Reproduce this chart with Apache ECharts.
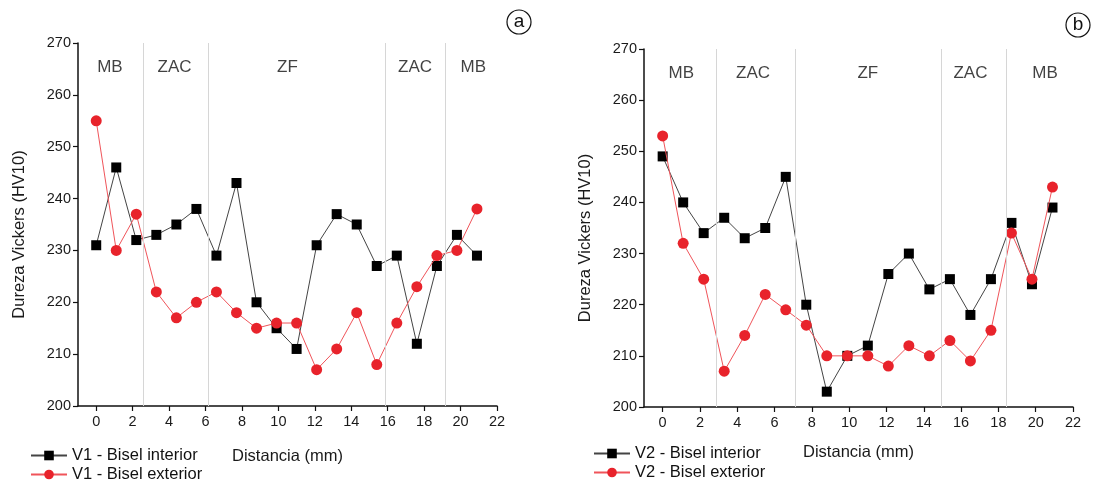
<!DOCTYPE html>
<html>
<head>
<meta charset="utf-8">
<script src="https://cdn.jsdelivr.net/npm/echarts@6/dist/echarts.min.js"></script>
<style>
  html, body { margin: 0; padding: 0; background: #fff; }
  #chart { width: 1099px; height: 481px; }
</style>
</head>
<body>
<div id="chart"></div>
<script>
/* Dureza Vickers — perfiles V1 (a) y V2 (b) */
const distancia = [0, 1.1, 2.2, 3.3, 4.4, 5.5, 6.6, 7.7, 8.8, 9.9, 11, 12.1, 13.2, 14.3, 15.4, 16.5, 17.6, 18.7, 19.8, 20.9];
const v1Interior = [231, 246, 232, 233, 235, 238, 229, 243, 220, 215, 211, 231, 237, 235, 227, 229, 212, 227, 233, 229];
const v1Exterior = [255, 230, 237, 222, 217, 220, 222, 218, 215, 216, 216, 207, 211, 218, 208, 216, 223, 229, 230, 238];
const v2Interior = [249, 240, 234, 237, 233, 235, 245, 220, 203, 210, 212, 226, 230, 223, 225, 218, 225, 236, 224, 239];
const v2Exterior = [253, 232, 225, 207, 214, 222, 219, 216, 210, 210, 210, 208, 212, 210, 213, 209, 215, 234, 225, 243];

const xTicks = [0, 2, 4, 6, 8, 10, 12, 14, 16, 18, 20, 22];
const zoneNames = ['MB', 'ZAC', 'ZF', 'ZAC', 'MB'];
const zoneLabelXA = [0.75, 4.3, 10.5, 17.5, 20.7];
const zoneLabelXB = [1.0, 4.85, 11.0, 16.5, 20.5];
const zoneBoundsA = [2.58, 6.15, 15.84, 19.18];
const zoneBoundsB = [2.85, 7.09, 14.96, 18.42];

const chart = echarts.init(document.getElementById('chart'));
const FONT = '"Liberation Sans", Arial, sans-serif';
const zip = (xs, ys) => xs.map((x, i) => [x, ys[i]]);

function xAxisFor(gridIndex) {
  return {
    type: 'value', gridIndex, min: -1, max: 22,
    name: 'Distancia (mm)', nameLocation: 'middle', nameGap: 42,
    nameTextStyle: { fontFamily: FONT, fontSize: 16.5, color: '#1a1a1a' },
    axisLine: { onZero: false, lineStyle: { color: '#111', width: 1.5 } },
    axisTick: { show: true, length: 5, customValues: xTicks, lineStyle: { color: '#111', width: 1.2 } },
    axisLabel: { customValues: xTicks, fontFamily: FONT, fontSize: 14.5, color: '#1a1a1a', margin: 8 },
    splitLine: { show: false },
  };
}
function yAxisFor(gridIndex) {
  return {
    type: 'value', gridIndex, min: 200, max: 270, interval: 10,
    name: 'Dureza Vickers (HV10)', nameLocation: 'middle', nameGap: 50,
    nameTextStyle: { fontFamily: FONT, fontSize: 16.5, color: '#1a1a1a', padding: [0, 0, 0, -20] },
    axisLine: { show: true, onZero: false, lineStyle: { color: '#111', width: 1.5 } },
    axisTick: { show: true, length: 5, lineStyle: { color: '#111', width: 1.2 } },
    axisLabel: { fontFamily: FONT, fontSize: 14.5, color: '#1a1a1a', margin: 7 },
    splitLine: { show: false },
  };
}
function interior(name, ys, idx, bounds) {
  return {
    name, type: 'line', xAxisIndex: idx, yAxisIndex: idx, data: zip(distancia, ys),
    symbol: 'rect', symbolSize: 10,
    itemStyle: { color: '#000' }, lineStyle: { color: '#444', width: 1 },
    z: 3,
    markLine: {
      silent: true, symbol: 'none', label: { show: false },
      lineStyle: { color: '#d6d6d6', width: 1, type: 'solid' },
      data: bounds.map((b) => ({ xAxis: b })),
    },
  };
}
function exterior(name, ys, idx) {
  return {
    name, type: 'line', xAxisIndex: idx, yAxisIndex: idx, data: zip(distancia, ys),
    symbol: 'circle', symbolSize: 11,
    itemStyle: { color: '#e8232b' }, lineStyle: { color: '#f0545a', width: 1 },
    z: 4,
  };
}
function zones(xs, idx) {
  return {
    type: 'scatter', xAxisIndex: idx, yAxisIndex: idx, silent: true, symbolSize: 0,
    data: xs.map((x, i) => ({ value: [x, 265.3], name: zoneNames[i] })),
    label: { show: true, position: 'inside', formatter: (p) => p.name, fontFamily: FONT, fontSize: 17, color: '#111' },
  };
}
function legendItem(name, left, top) {
  return {
    data: [name], left, top, itemWidth: 36, itemHeight: 12, padding: 0,
    textStyle: { fontFamily: FONT, fontSize: 16.5, color: '#111' },
  };
}
function circled(letter, cx, cy) {
  return [
    { type: 'circle', shape: { cx, cy, r: 12 }, style: { fill: 'none', stroke: '#111', lineWidth: 1.2 } },
    { type: 'text', x: cx, y: cy, style: { text: letter, fontFamily: FONT, fontSize: 19, fill: '#111', align: 'center', verticalAlign: 'middle' } },
  ];
}

chart.setOption({
  backgroundColor: '#fff',
  animation: false,
  grid: [
    { left: 78, top: 43, width: 419, height: 363 },
    { left: 644, top: 49, width: 429, height: 358 },
  ],
  xAxis: [xAxisFor(0), Object.assign(xAxisFor(1), { nameGap: 37 })],
  yAxis: [yAxisFor(0), yAxisFor(1)],
  legend: [
    legendItem('V1 - Bisel interior', 30, 447),
    legendItem('V1 - Bisel exterior', 30, 466),
    legendItem('V2 - Bisel interior', 593, 445),
    legendItem('V2 - Bisel exterior', 593, 464),
  ],
  graphic: [...circled('a', 519, 22), ...circled('b', 1078, 25)],
  series: [
    interior('V1 - Bisel interior', v1Interior, 0, zoneBoundsA),
    exterior('V1 - Bisel exterior', v1Exterior, 0),
    zones(zoneLabelXA, 0),
    interior('V2 - Bisel interior', v2Interior, 1, zoneBoundsB),
    exterior('V2 - Bisel exterior', v2Exterior, 1),
    zones(zoneLabelXB, 1),
  ],
});
</script>
</body>
</html>
